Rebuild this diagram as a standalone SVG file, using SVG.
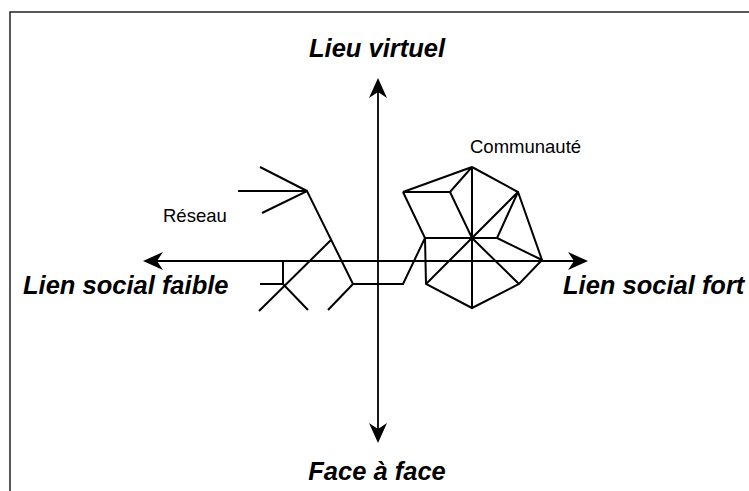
<svg xmlns="http://www.w3.org/2000/svg" width="749" height="491" viewBox="0 0 749 491">
  <style>
    .frame { fill: none; stroke: #222; stroke-width: 1.5; }
    .axis { fill: none; stroke: #000; stroke-width: 1.8; }
    .net { fill: none; stroke: #000; stroke-width: 2; stroke-linejoin: miter; stroke-linecap: butt; }
    .big { font-family: "Liberation Sans", Arial, sans-serif; font-weight: bold; font-style: italic; font-size: 25.5px; fill: #000; }
    .small { font-family: "Liberation Sans", Arial, sans-serif; font-size: 18.5px; fill: #000; }
  </style>
  <defs>
    <marker id="arrow" viewBox="-7 -10 22 20" markerWidth="22" markerHeight="20" refX="0" refY="0" orient="auto-start-reverse" markerUnits="userSpaceOnUse">
      <path d="M14,0 L-6,-9 L0,0 L-6,9 Z" fill="#000"/>
    </marker>
  </defs>
  <rect width="749" height="491" fill="#fff"/>

  <g id="frame">
    <path class="frame" d="M10,491 L10,12 L749,12"/>
  </g>

  <g id="connectors">
    <line class="axis" x1="378" y1="92" x2="378" y2="429" marker-start="url(#arrow)" marker-end="url(#arrow)"/>
    <line class="axis" x1="157" y1="261" x2="574" y2="261" marker-start="url(#arrow)" marker-end="url(#arrow)"/>
  </g>

  <g id="reseau">
    <path class="net" d="M260,167 L307,191 M238,191 L307,191 M262,213 L307,191 L353,284 L403,284 L425,238"/>
    <path class="net" d="M353,284 L328,310"/>
    <path class="net" d="M331,240 L259,311"/>
    <path class="net" d="M283,261 L283,284 M260,284 L283,284 L308,310"/>
  </g>

  <g id="communaute">
    <path class="net" d="M472,167 L403,192 L450,192 Z"/>
    <path class="net" d="M472,167 L518,192 L542,260 L519,284 L472,308 L426,284 L425,238 L403,192"/>
    <path class="net" d="M472,167 L472,308"/>
    <path class="net" d="M450,192 L472,238 L518,192 L497,238 L542,260"/>
    <path class="net" d="M425,238 L497,238"/>
    <path class="net" d="M426,284 L472,238 L519,284"/>
  </g>

  <g id="labels">
    <text class="big" x="377" y="57" text-anchor="middle">Lieu virtuel</text>
    <text class="big" x="377" y="480" text-anchor="middle">Face à face</text>
    <text class="big" x="23" y="294">Lien social faible</text>
    <text class="big" x="563" y="294">Lien social fort</text>
    <text class="small" x="163" y="222">Réseau</text>
    <text class="small" x="470" y="153">Communauté</text>
  </g>
</svg>
